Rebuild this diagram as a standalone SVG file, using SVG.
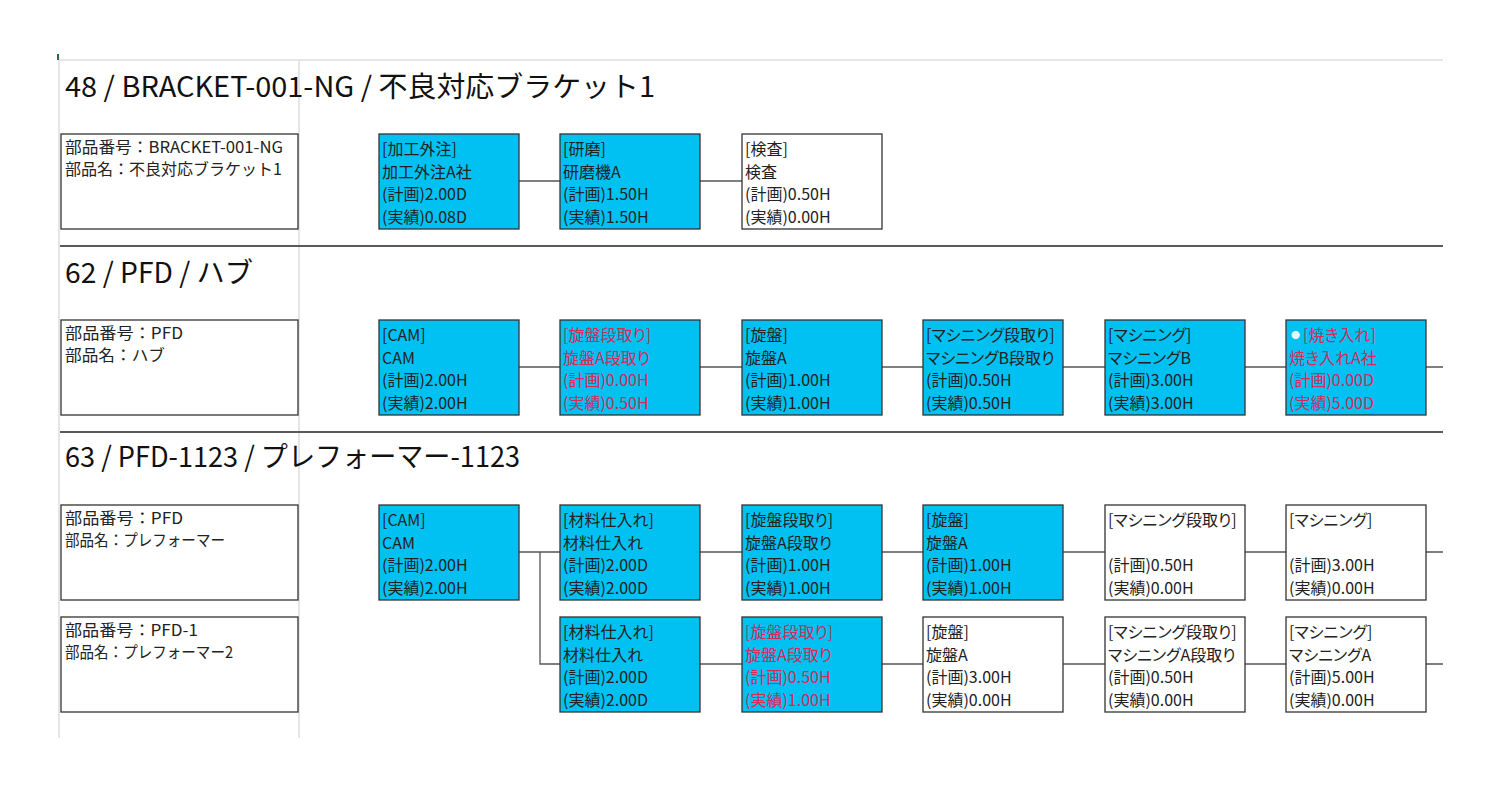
<svg xmlns="http://www.w3.org/2000/svg" width="1500" height="794" viewBox="0 0 1500 794">
<style>
text{font-family:"Noto Sans CJK JP","Noto Sans",sans-serif;fill:#222;}
.title{font-size:28px;fill:#111;}
.info{font-size:16px;}
.nt{font-size:16px;font-feature-settings:"palt";}
.red{fill:#d42a5c;}
.box{stroke:#333;stroke-width:1.3;}
.cy{fill:#00c1f2;}
.wh{fill:#fff;}
.ib{fill:#fff;stroke:#333;stroke-width:1.3;}
.grid{stroke:#dcdcdc;stroke-width:1.5;fill:none;}
.sep{stroke:#5a5a5a;stroke-width:2;}
.conn{stroke:#555;stroke-width:1.3;fill:none;}
</style>
<rect x="0" y="0" width="1500" height="794" fill="#fff"/>
<g id="grid">
<line class="grid" x1="60" y1="60" x2="1443" y2="60"/>
<line class="grid" x1="59" y1="57" x2="59" y2="738"/>
<line class="grid" x1="299" y1="60" x2="299" y2="738"/>
<rect x="57" y="54" width="2" height="6" fill="#1e7145"/>
<line class="sep" x1="60" y1="246" x2="1443" y2="246"/>
<line class="sep" x1="60" y1="432" x2="1443" y2="432"/>
</g>
<g id="titles">
<text class="title" x="65" y="97" textLength="590" lengthAdjust="spacingAndGlyphs">48 / BRACKET-001-NG / 不良対応ブラケット1</text>
<text class="title" x="65" y="283" textLength="188" lengthAdjust="spacingAndGlyphs">62 / PFD / ハブ</text>
<text class="title" x="65" y="467" textLength="455" lengthAdjust="spacingAndGlyphs">63 / PFD-1123 / プレフォーマー-1123</text>
</g>
<g id="connectors">
<path class="conn" d="M519 181H560M700 181H742"/>
<path class="conn" d="M519 367H560M700 367H742M882 367H923M1063 367H1105M1245 367H1286M1426 367H1443"/>
<path class="conn" d="M519 552H560M700 552H742M882 552H923M1063 552H1105M1245 552H1286M1426 552H1443"/>
<path class="conn" d="M540 552V664H560"/>
<path class="conn" d="M700 664H742M882 664H923M1063 664H1105M1245 664H1286M1426 664H1443"/>
</g>
<g id="info-48">
<rect class="ib" x="61" y="134" width="237" height="95"/>
<text class="info" x="65" y="153" textLength="218" lengthAdjust="spacingAndGlyphs">部品番号：BRACKET-001-NG</text>
<text class="info" x="65" y="175" textLength="217" lengthAdjust="spacingAndGlyphs">部品名：不良対応ブラケット1</text>
</g>
<g id="info-62">
<rect class="ib" x="61" y="320" width="237" height="95"/>
<text class="info" x="65" y="339" textLength="118" lengthAdjust="spacingAndGlyphs">部品番号：PFD</text>
<text class="info" x="65" y="361" textLength="100" lengthAdjust="spacingAndGlyphs">部品名：ハブ</text>
</g>
<g id="info-63a">
<rect class="ib" x="61" y="505" width="237" height="95"/>
<text class="info" x="65" y="524" textLength="118" lengthAdjust="spacingAndGlyphs">部品番号：PFD</text>
<text class="info" x="65" y="546" textLength="160" lengthAdjust="spacingAndGlyphs">部品名：プレフォーマー</text>
</g>
<g id="info-63b">
<rect class="ib" x="61" y="617" width="237" height="95"/>
<text class="info" x="65" y="636" textLength="133" lengthAdjust="spacingAndGlyphs">部品番号：PFD-1</text>
<text class="info" x="65" y="658" textLength="168" lengthAdjust="spacingAndGlyphs">部品名：プレフォーマー2</text>
</g>
<!-- Row 1 -->
<g id="r1n1"><rect class="box cy" x="379" y="134" width="140" height="95"/>
<text class="nt" x="382" y="155">[加工外注]</text><text class="nt" x="382" y="178">加工外注A社</text><text class="nt" x="382" y="200">(計画)2.00D</text><text class="nt" x="382" y="223">(実績)0.08D</text></g>
<g id="r1n2"><rect class="box cy" x="560" y="134" width="140" height="95"/>
<text class="nt" x="563" y="155">[研磨]</text><text class="nt" x="563" y="178">研磨機A</text><text class="nt" x="563" y="200">(計画)1.50H</text><text class="nt" x="563" y="223">(実績)1.50H</text></g>
<g id="r1n3"><rect class="box wh" x="742" y="134" width="140" height="95"/>
<text class="nt" x="745" y="155">[検査]</text><text class="nt" x="745" y="178">検査</text><text class="nt" x="745" y="200">(計画)0.50H</text><text class="nt" x="745" y="223">(実績)0.00H</text></g>
<!-- Row 2 -->
<g id="r2n1"><rect class="box cy" x="379" y="320" width="140" height="95"/>
<text class="nt" x="382" y="341">[CAM]</text><text class="nt" x="382" y="364">CAM</text><text class="nt" x="382" y="386">(計画)2.00H</text><text class="nt" x="382" y="409">(実績)2.00H</text></g>
<g id="r2n2"><rect class="box cy" x="560" y="320" width="140" height="95"/>
<text class="nt red" x="563" y="341">[旋盤段取り]</text><text class="nt red" x="563" y="364">旋盤A段取り</text><text class="nt red" x="563" y="386">(計画)0.00H</text><text class="nt red" x="563" y="409">(実績)0.50H</text></g>
<g id="r2n3"><rect class="box cy" x="742" y="320" width="140" height="95"/>
<text class="nt" x="745" y="341">[旋盤]</text><text class="nt" x="745" y="364">旋盤A</text><text class="nt" x="745" y="386">(計画)1.00H</text><text class="nt" x="745" y="409">(実績)1.00H</text></g>
<g id="r2n4"><rect class="box cy" x="923" y="320" width="140" height="95"/>
<text class="nt" x="926" y="341">[マシニング段取り]</text><text class="nt" x="926" y="364">マシニングB段取り</text><text class="nt" x="926" y="386">(計画)0.50H</text><text class="nt" x="926" y="409">(実績)0.50H</text></g>
<g id="r2n5"><rect class="box cy" x="1105" y="320" width="140" height="95"/>
<text class="nt" x="1108" y="341">[マシニング]</text><text class="nt" x="1108" y="364">マシニングB</text><text class="nt" x="1108" y="386">(計画)3.00H</text><text class="nt" x="1108" y="409">(実績)3.00H</text></g>
<g id="r2n6"><rect class="box cy" x="1286" y="320" width="140" height="95"/>
<text class="nt red" x="1291" y="341"><tspan font-size="9" dy="-3" fill="#e6f9ff">●</tspan><tspan dx="3" dy="3">[焼き入れ]</tspan></text><text class="nt red" x="1289" y="364">焼き入れA社</text><text class="nt red" x="1289" y="386">(計画)0.00D</text><text class="nt red" x="1289" y="409">(実績)5.00D</text></g>
<!-- Row 3a -->
<g id="r3n1"><rect class="box cy" x="379" y="505" width="140" height="95"/>
<text class="nt" x="382" y="526">[CAM]</text><text class="nt" x="382" y="549">CAM</text><text class="nt" x="382" y="571">(計画)2.00H</text><text class="nt" x="382" y="594">(実績)2.00H</text></g>
<g id="r3n2"><rect class="box cy" x="560" y="505" width="140" height="95"/>
<text class="nt" x="563" y="526">[材料仕入れ]</text><text class="nt" x="563" y="549">材料仕入れ</text><text class="nt" x="563" y="571">(計画)2.00D</text><text class="nt" x="563" y="594">(実績)2.00D</text></g>
<g id="r3n3"><rect class="box cy" x="742" y="505" width="140" height="95"/>
<text class="nt" x="745" y="526">[旋盤段取り]</text><text class="nt" x="745" y="549">旋盤A段取り</text><text class="nt" x="745" y="571">(計画)1.00H</text><text class="nt" x="745" y="594">(実績)1.00H</text></g>
<g id="r3n4"><rect class="box cy" x="923" y="505" width="140" height="95"/>
<text class="nt" x="926" y="526">[旋盤]</text><text class="nt" x="926" y="549">旋盤A</text><text class="nt" x="926" y="571">(計画)1.00H</text><text class="nt" x="926" y="594">(実績)1.00H</text></g>
<g id="r3n5"><rect class="box wh" x="1105" y="505" width="140" height="95"/>
<text class="nt" x="1108" y="526">[マシニング段取り]</text><text class="nt" x="1108" y="571">(計画)0.50H</text><text class="nt" x="1108" y="594">(実績)0.00H</text></g>
<g id="r3n6"><rect class="box wh" x="1286" y="505" width="140" height="95"/>
<text class="nt" x="1289" y="526">[マシニング]</text><text class="nt" x="1289" y="571">(計画)3.00H</text><text class="nt" x="1289" y="594">(実績)0.00H</text></g>
<!-- Row 3b -->
<g id="r4n2"><rect class="box cy" x="560" y="617" width="140" height="95"/>
<text class="nt" x="563" y="638">[材料仕入れ]</text><text class="nt" x="563" y="661">材料仕入れ</text><text class="nt" x="563" y="683">(計画)2.00D</text><text class="nt" x="563" y="706">(実績)2.00D</text></g>
<g id="r4n3"><rect class="box cy" x="742" y="617" width="140" height="95"/>
<text class="nt red" x="745" y="638">[旋盤段取り]</text><text class="nt red" x="745" y="661">旋盤A段取り</text><text class="nt red" x="745" y="683">(計画)0.50H</text><text class="nt red" x="745" y="706">(実績)1.00H</text></g>
<g id="r4n4"><rect class="box wh" x="923" y="617" width="140" height="95"/>
<text class="nt" x="926" y="638">[旋盤]</text><text class="nt" x="926" y="661">旋盤A</text><text class="nt" x="926" y="683">(計画)3.00H</text><text class="nt" x="926" y="706">(実績)0.00H</text></g>
<g id="r4n5"><rect class="box wh" x="1105" y="617" width="140" height="95"/>
<text class="nt" x="1108" y="638">[マシニング段取り]</text><text class="nt" x="1108" y="661">マシニングA段取り</text><text class="nt" x="1108" y="683">(計画)0.50H</text><text class="nt" x="1108" y="706">(実績)0.00H</text></g>
<g id="r4n6"><rect class="box wh" x="1286" y="617" width="140" height="95"/>
<text class="nt" x="1289" y="638">[マシニング]</text><text class="nt" x="1289" y="661">マシニングA</text><text class="nt" x="1289" y="683">(計画)5.00H</text><text class="nt" x="1289" y="706">(実績)0.00H</text></g>
</svg>
